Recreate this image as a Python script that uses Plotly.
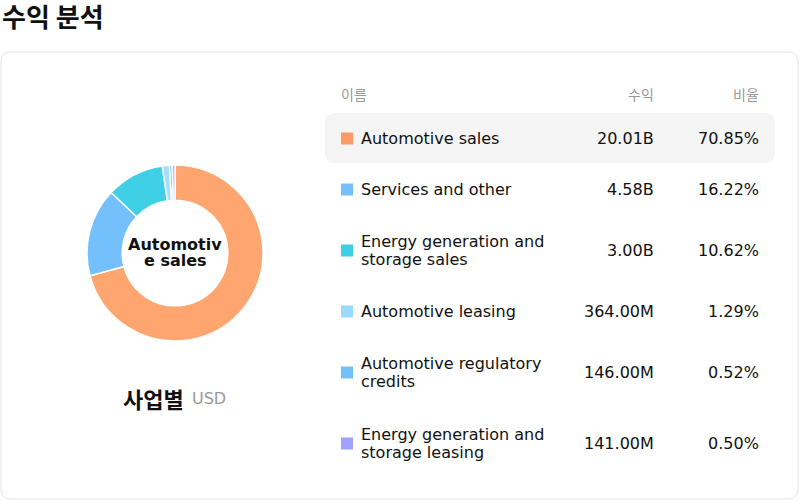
import textwrap
import plotly.graph_objects as go

# revenue breakdown by segment
segments = [
    "Automotive sales",
    "Services and other",
    "Energy generation and storage sales",
    "Automotive leasing",
    "Automotive regulatory credits",
    "Energy generation and storage leasing",
]
revenue = [20.01e9, 4.58e9, 3.00e9, 364.0e6, 146.0e6, 141.0e6]
revenue_labels = ["20.01B", "4.58B", "3.00B", "364.00M", "146.00M", "141.00M"]
share_labels = ["70.85%", "16.22%", "10.62%", "1.29%", "0.52%", "0.50%"]
header_labels = ["이름", "수익", "비율"]

swatch_colors = ["#FF9966", "#74C0FC", "#3DCFE6", "#99DAFF", "#74C0FC", "#A0A0FF"]
slice_colors = ["#FFA670", "#74C0FC", "#40D0E6", "#A3DDFF", "#86C8FC", "#A8A8FF"]

W, H = 800, 501
FONT = "DejaVu Sans"
KR = "Noto Sans CJK KR"


def rounded(x0, y0, x1, y1, r):
    return (f"M{x0+r},{y0} L{x1-r},{y0} Q{x1},{y0} {x1},{y0+r} "
            f"L{x1},{y1-r} Q{x1},{y1} {x1-r},{y1} L{x0+r},{y1} "
            f"Q{x0},{y1} {x0},{y1-r} L{x0},{y0+r} Q{x0},{y0} {x0+r},{y0} Z")


fig = go.Figure()
fig.add_trace(go.Scatter(x=[], y=[], showlegend=False))
fig.add_trace(go.Pie(
    labels=segments,
    values=revenue,
    hole=0.6,
    sort=False,
    direction="clockwise",
    rotation=0,
    textinfo="none",
    marker=dict(colors=slice_colors, line=dict(color="white", width=1.5)),
    domain=dict(x=[87 / W, 263 / W], y=[1 - 341 / H, 1 - 165 / H]),
    showlegend=False,
))

shapes = [
    dict(type="path", path=rounded(1, 52, 798, 499, 10), xref="x", yref="y",
         line=dict(color="#E2E2EC", width=1), fillcolor="white", layer="below"),
    dict(type="path", path=rounded(325, 113, 775, 163, 10), xref="x", yref="y",
         line=dict(width=0), fillcolor="#F5F5F5", layer="below"),
]
ann = []


def text(x, y, s, size=16, color="#111", anchor="left", bold=False, family=FONT):
    if bold:
        s = f"<b>{s}</b>"
    # annotations carry ~2px of padding, compensate so glyphs land on x
    shift = {"left": -2, "right": 2}.get(anchor, 0)
    ann.append(dict(x=x, y=y, xref="x", yref="y", text=s, showarrow=False,
                    xanchor=anchor, yanchor="middle", xshift=shift,
                    font=dict(size=size, color=color, family=family)))


text(0, 15, "수익 분석", size=26, bold=True, family=KR)
ann[-1]["xshift"] = 0
text(175, 244, "Automotiv", size=16, anchor="center", bold=True)
text(175, 260, "e sales", size=16, anchor="center", bold=True)
text(184, 398, "사업별", size=22, anchor="right", bold=True, family=KR)
text(192, 398, "USD", size=16, color="#999")

text(341, 94, header_labels[0], size=14, color="#999", family=KR)
text(654, 94, header_labels[1], size=14, color="#999", anchor="right", family=KR)
text(759, 94, header_labels[2], size=14, color="#999", anchor="right", family=KR)

y_top = 113
for name, col, rv, sh in zip(segments, swatch_colors, revenue_labels, share_labels):
    lines = textwrap.wrap(name, 22)
    h = 51 if len(lines) == 1 else 71
    yc = y_top + h / 2
    shapes.append(dict(type="rect", xref="x", yref="y", x0=341, x1=353,
                       y0=yc - 6, y1=yc + 6, fillcolor=col, line=dict(width=0)))
    for i, ln in enumerate(lines):
        text(361, yc + (i - (len(lines) - 1) / 2) * 18, ln)
    text(654, yc, rv, anchor="right")
    text(759, yc, sh, anchor="right")
    y_top += h

fig.update_layout(
    width=W, height=H,
    margin=dict(l=0, r=0, t=0, b=0),
    paper_bgcolor="white", plot_bgcolor="white",
    xaxis=dict(range=[0, W], visible=False, fixedrange=True),
    yaxis=dict(range=[H, 0], visible=False, fixedrange=True),
    shapes=shapes,
    annotations=ann,
    font=dict(family=FONT),
)
fig.write_html("out.html", config={"displayModeBar": False},
               post_script="document.body.style.margin='0';")
